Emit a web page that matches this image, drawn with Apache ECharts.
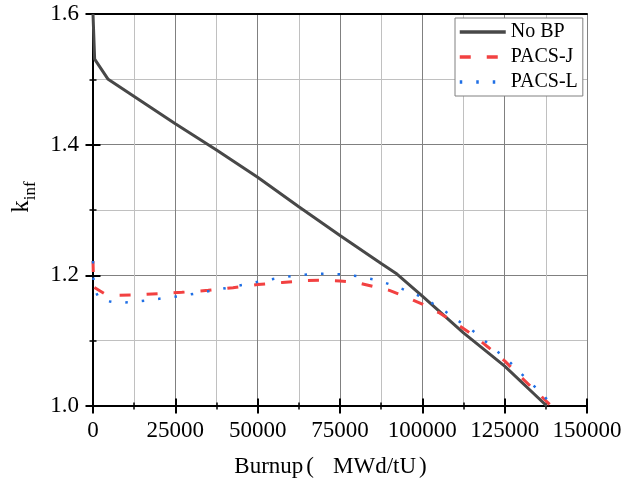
<!DOCTYPE html>
<html>
<head>
<meta charset="utf-8">
<script src="https://cdn.jsdelivr.net/npm/echarts@6/dist/echarts.min.js"></script>
<style>
  html, body { margin: 0; padding: 0; background: #fff; }
  #chart { width: 634px; height: 486px; }
</style>
</head>
<body>
<div id="chart"></div>
<script>
// k-infinity versus burnup for three burnable-poison configurations
const seriesNames = ['No BP', 'PACS-J', 'PACS-L'];

const burnupNoBP = [0, 500, 4600, 25000, 37500, 50000, 62500, 75000, 87500, 92300, 100000, 112500, 125000, 137800];
const kNoBP      = [1.600, 1.531, 1.500, 1.432, 1.392, 1.350, 1.305, 1.261, 1.218, 1.202, 1.168, 1.112, 1.061, 1.000];

const burnupJ = [0, 200, 3500, 8000, 12500, 20000, 27000, 35000, 42500, 50000, 57500, 65000, 70000, 75000, 80000, 85000, 90000, 95000, 100000, 105000, 110000, 115000, 120000, 125000, 130000, 135000, 139200];
const kJ      = [1.222, 1.182, 1.172, 1.1695, 1.170, 1.172, 1.174, 1.177, 1.181, 1.186, 1.189, 1.192, 1.1925, 1.1915, 1.189, 1.183, 1.177, 1.167, 1.156, 1.143, 1.127, 1.110, 1.090, 1.069, 1.044, 1.020, 1.000];

const burnupL = [0, 200, 2000, 7000, 12000, 17000, 22000, 27000, 32000, 36500, 41000, 46000, 51000, 55500, 60500, 65500, 70500, 75500, 80000, 85000, 89700, 94200, 98800, 102900, 107200, 111000, 114900, 118800, 122400, 126200, 129500, 133100, 136500, 139700];
const kL      = [1.222, 1.181, 1.163, 1.158, 1.159, 1.162, 1.1655, 1.1685, 1.173, 1.177, 1.181, 1.186, 1.191, 1.195, 1.199, 1.2015, 1.2025, 1.2015, 1.199, 1.194, 1.187, 1.1786, 1.169, 1.1577, 1.144, 1.130, 1.117, 1.1006, 1.085, 1.069, 1.052, 1.035, 1.0175, 1.000];

const xTicks = [0, 25000, 50000, 75000, 100000, 125000, 150000];
const yTicks = [1.0, 1.2, 1.4, 1.6];

const FONT = 'Liberation Serif';
const pairs = (xs, ys) => xs.map((x, i) => [x, ys[i]]);

const chart = echarts.init(document.getElementById('chart'), null, { renderer: 'canvas' });

// axis carrying only the inward half of the crossing ticks
function innerTickAxis(base, extra) {
  return Object.assign({
    type: 'value',
    min: base.min, max: base.max, interval: base.interval,
    axisLine: { show: false },
    axisLabel: { show: false },
    splitLine: { show: false },
    axisTick: { show: true, inside: true, length: 7.5, lineStyle: { color: '#000', width: 2 } },
    minorTick: { show: true, splitNumber: 2, length: 3.5, lineStyle: { color: '#000', width: 1.5 } }
  }, extra);
}
// plain frame line for the top and right sides
function frameAxis(base, extra) {
  return Object.assign({
    type: 'value',
    min: base.min, max: base.max, interval: base.interval,
    axisLine: { show: true, lineStyle: { color: '#000', width: 2 } },
    axisLabel: { show: false },
    axisTick: { show: false },
    splitLine: { show: false }
  }, extra);
}

const xBase = { min: xTicks[0], max: xTicks[xTicks.length - 1], interval: xTicks[1] - xTicks[0] };
const yBase = { min: yTicks[0], max: yTicks[yTicks.length - 1], interval: +(yTicks[1] - yTicks[0]).toFixed(2) };

chart.setOption({
  animation: false,
  backgroundColor: '#fff',
  grid: { left: 93, right: 47, top: 14, bottom: 80, containLabel: false },
  legend: {
    orient: 'vertical',
    left: 455, top: 18,
    padding: [4, 5, 4, 3],
    itemGap: 5,
    itemWidth: 46,
    itemHeight: 14,
    backgroundColor: '#fff',
    borderColor: '#808080',
    borderWidth: 1,
    borderRadius: 0,
    itemStyle: { opacity: 0 },
    lineStyle: { width: 3.5 },
    textStyle: { fontFamily: FONT, fontSize: 20, color: '#000', lineHeight: 20 },
    data: seriesNames
  },
  xAxis: [
    {
      type: 'value', position: 'bottom',
      min: xBase.min, max: xBase.max, interval: xBase.interval,
      name: '{a|Burnup}{p|(}{b|MWd/tU}{q|)}',
      nameLocation: 'middle', nameGap: 49,
      nameTextStyle: {
        fontFamily: FONT, fontSize: 23, color: '#000',
        padding: [0, 19, 0, 0],
        rich: {
          a: { fontFamily: FONT, fontSize: 23, color: '#000' },
          p: { fontFamily: FONT, fontSize: 23, color: '#000', padding: [0, 19, 0, 3] },
          b: { fontFamily: FONT, fontSize: 23, color: '#000' },
          q: { fontFamily: FONT, fontSize: 23, color: '#000', padding: [0, 0, 0, 3] }
        }
      },
      axisLine: { show: true, onZero: false, lineStyle: { color: '#000', width: 2 } },
      axisTick: { show: true, inside: false, length: 7.5, lineStyle: { color: '#000', width: 2 } },
      minorTick: { show: true, splitNumber: 2, length: 3.5, lineStyle: { color: '#000', width: 1.5 } },
      axisLabel: { fontFamily: FONT, fontSize: 23, color: '#000', margin: 13, formatter: v => String(v) },
      splitLine: { show: true, lineStyle: { color: '#808080', width: 1 } },
      minorSplitLine: { show: true, lineStyle: { color: '#c0c0c0', width: 1 } }
    },
    innerTickAxis(xBase, { position: 'bottom' }),
    frameAxis(xBase, { position: 'top' })
  ],
  yAxis: [
    {
      type: 'value', position: 'left',
      min: yBase.min, max: yBase.max, interval: yBase.interval,
      name: '{k|k}{s|inf}',
      nameLocation: 'middle', nameGap: 52,
      nameTextStyle: {
        fontFamily: FONT, color: '#000',
        padding: [0, 0, 0, 26],
        rich: {
          k: { fontFamily: FONT, fontSize: 25, color: '#000', lineHeight: 30, verticalAlign: 'bottom' },
          s: { fontFamily: FONT, fontSize: 17, color: '#000', lineHeight: 30, verticalAlign: 'bottom', padding: [0, 0, -5, 0] }
        }
      },
      axisLine: { show: true, onZero: false, lineStyle: { color: '#000', width: 2 } },
      axisTick: { show: true, inside: false, length: 7.5, lineStyle: { color: '#000', width: 2 } },
      minorTick: { show: true, splitNumber: 2, length: 3.5, lineStyle: { color: '#000', width: 1.5 } },
      axisLabel: { fontFamily: FONT, fontSize: 23, color: '#000', margin: 14, formatter: v => v.toFixed(1) },
      splitLine: { show: true, lineStyle: { color: '#808080', width: 1 } },
      minorSplitLine: { show: true, lineStyle: { color: '#c0c0c0', width: 1 } }
    },
    innerTickAxis(yBase, { position: 'left' }),
    frameAxis(yBase, { position: 'right' })
  ],
  series: [
    {
      name: seriesNames[0], type: 'line', xAxisIndex: 0, yAxisIndex: 0,
      symbol: 'none', smooth: false,
      lineStyle: { color: '#484848', width: 3, type: 'solid' },
      itemStyle: { color: '#484848' },
      data: pairs(burnupNoBP, kNoBP)
    },
    {
      name: seriesNames[1], type: 'line', xAxisIndex: 0, yAxisIndex: 0,
      symbol: 'none', smooth: false,
      lineStyle: { color: '#f24141', width: 3, type: [11, 16] },
      itemStyle: { color: '#f24141' },
      data: pairs(burnupJ, kJ)
    },
    {
      name: seriesNames[2], type: 'line', xAxisIndex: 0, yAxisIndex: 0,
      symbol: 'none', smooth: false,
      lineStyle: { color: '#1f6fe5', width: 2.5, type: [2.5, 14] },
      itemStyle: { color: '#1f6fe5' },
      data: pairs(burnupL, kL)
    }
  ]
});
</script>
</body>
</html>
